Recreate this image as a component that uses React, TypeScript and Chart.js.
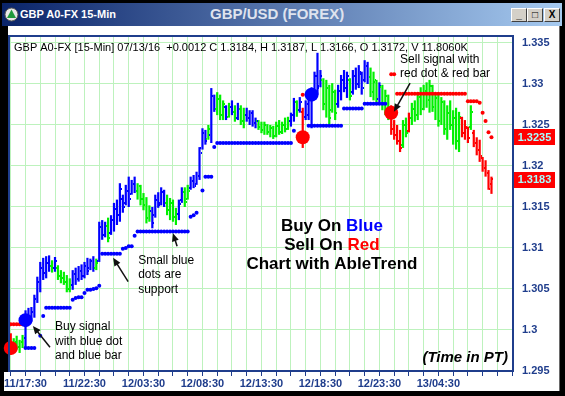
import React, { useEffect, useRef } from 'react';
import { Chart, registerables } from 'chart.js';

Chart.register(...registerables);

const FONT = 'Arial, "Liberation Sans", sans-serif';
const NAVY = '#1f3d8c';
const GRID = '#bdf2bd';
const TREND_COLORS: Record<string, string> = { B: '#0000ff', G: '#00f000', R: '#ff0000' };

// 15-minute bars: [trend colour, open, high, low, close]
const bars: [string, number, number, number, number][] = [
  ['R', 1.2990, 1.2996, 1.2970, 1.2976], // 0
  ['G', 1.2976, 1.2990, 1.2973, 1.2985],
  ['G', 1.2984, 1.2993, 1.2976, 1.2979],
  ['G', 1.2979, 1.2988, 1.2972, 1.2985],
  ['G', 1.2985, 1.2994, 1.2978, 1.2990],
  ['B', 1.2990, 1.3024, 1.2978, 1.3018], // 5
  ['B', 1.3018, 1.3027, 1.3006, 1.3012],
  ['B', 1.3012, 1.3028, 1.3010, 1.3022],
  ['B', 1.3022, 1.3043, 1.3015, 1.3038],
  ['B', 1.3038, 1.3065, 1.3033, 1.3058],
  ['B', 1.3058, 1.3083, 1.3046, 1.3075], // 10
  ['B', 1.3075, 1.3088, 1.3061, 1.3070],
  ['B', 1.3070, 1.3090, 1.3063, 1.3082],
  ['B', 1.3082, 1.3091, 1.3071, 1.3078],
  ['G', 1.3078, 1.3085, 1.3070, 1.3075],
  ['B', 1.3075, 1.3089, 1.3071, 1.3084], // 15
  ['G', 1.3076, 1.3079, 1.3061, 1.3066],
  ['G', 1.3066, 1.3073, 1.3057, 1.3063],
  ['G', 1.3063, 1.3071, 1.3055, 1.3058],
  ['G', 1.3058, 1.3067, 1.3046, 1.3050],
  ['G', 1.3050, 1.3063, 1.3046, 1.3055], // 20
  ['B', 1.3055, 1.3073, 1.3049, 1.3068],
  ['B', 1.3068, 1.3076, 1.3055, 1.3062],
  ['B', 1.3062, 1.3078, 1.3059, 1.3072],
  ['B', 1.3072, 1.3080, 1.3061, 1.3066],
  ['B', 1.3066, 1.3083, 1.3063, 1.3078], // 25
  ['B', 1.3078, 1.3088, 1.3067, 1.3072],
  ['B', 1.3075, 1.3087, 1.3073, 1.3084],
  ['B', 1.3084, 1.3090, 1.3071, 1.3076],
  ['G', 1.3076, 1.3087, 1.3073, 1.3082],
  ['B', 1.3084, 1.3132, 1.3083, 1.3125], // 30
  ['B', 1.3125, 1.3134, 1.3110, 1.3116],
  ['B', 1.3116, 1.3132, 1.3113, 1.3127],
  ['G', 1.3127, 1.3137, 1.3107, 1.3112],
  ['B', 1.3118, 1.3140, 1.3116, 1.3134],
  ['B', 1.3134, 1.3155, 1.3120, 1.3148], // 35
  ['B', 1.3148, 1.3159, 1.3128, 1.3140],
  ['B', 1.3140, 1.3179, 1.3132, 1.3172],
  ['B', 1.3160, 1.3165, 1.3143, 1.3150],
  ['B', 1.3155, 1.3177, 1.3152, 1.3170],
  ['B', 1.3170, 1.3187, 1.3150, 1.3160], // 40
  ['B', 1.3166, 1.3183, 1.3165, 1.3178],
  ['B', 1.3178, 1.3187, 1.3167, 1.3170],
  ['G', 1.3170, 1.3179, 1.3159, 1.3175],
  ['G', 1.3175, 1.3177, 1.3152, 1.3160],
  ['G', 1.3160, 1.3167, 1.3146, 1.3152], // 45
  ['G', 1.3152, 1.3162, 1.3130, 1.3136],
  ['G', 1.3136, 1.3152, 1.3132, 1.3145],
  ['B', 1.3145, 1.3150, 1.3124, 1.3130],
  ['B', 1.3140, 1.3165, 1.3137, 1.3158],
  ['B', 1.3158, 1.3168, 1.3149, 1.3152], // 50
  ['B', 1.3155, 1.3174, 1.3152, 1.3168],
  ['B', 1.3168, 1.3171, 1.3150, 1.3155],
  ['G', 1.3155, 1.3165, 1.3140, 1.3146],
  ['G', 1.3146, 1.3161, 1.3134, 1.3155],
  ['G', 1.3155, 1.3159, 1.3132, 1.3138], // 55
  ['G', 1.3138, 1.3149, 1.3128, 1.3142],
  ['B', 1.3142, 1.3159, 1.3134, 1.3154],
  ['B', 1.3158, 1.3174, 1.3155, 1.3168],
  ['G', 1.3168, 1.3174, 1.3150, 1.3156],
  ['G', 1.3160, 1.3177, 1.3159, 1.3170], // 60
  ['B', 1.3173, 1.3187, 1.3171, 1.3182],
  ['B', 1.3182, 1.3189, 1.3173, 1.3176],
  ['B', 1.3178, 1.3193, 1.3177, 1.3188],
  ['B', 1.3188, 1.3223, 1.3183, 1.3216],
  ['B', 1.3222, 1.3246, 1.3220, 1.3240], // 65
  ['B', 1.3240, 1.3244, 1.3226, 1.3230],
  ['G', 1.3233, 1.3250, 1.3232, 1.3245],
  ['B', 1.3238, 1.3295, 1.3228, 1.3285],
  ['B', 1.3285, 1.3287, 1.3266, 1.3270],
  ['G', 1.3270, 1.3290, 1.3262, 1.3282], // 70
  ['G', 1.3282, 1.3287, 1.3256, 1.3262],
  ['G', 1.3262, 1.3280, 1.3256, 1.3275],
  ['B', 1.3272, 1.3274, 1.3256, 1.3260],
  ['G', 1.3260, 1.3277, 1.3259, 1.3272],
  ['B', 1.3272, 1.3280, 1.3262, 1.3266], // 75
  ['G', 1.3266, 1.3274, 1.3254, 1.3258],
  ['B', 1.3258, 1.3277, 1.3256, 1.3270],
  ['G', 1.3270, 1.3274, 1.3250, 1.3255],
  ['G', 1.3255, 1.3271, 1.3246, 1.3262],
  ['B', 1.3262, 1.3271, 1.3254, 1.3258], // 80
  ['B', 1.3258, 1.3268, 1.3250, 1.3264],
  ['B', 1.3264, 1.3268, 1.3248, 1.3252],
  ['B', 1.3252, 1.3259, 1.3246, 1.3255],
  ['G', 1.3255, 1.3256, 1.3244, 1.3248],
  ['G', 1.3248, 1.3254, 1.3240, 1.3244], // 85
  ['G', 1.3244, 1.3254, 1.3238, 1.3250],
  ['G', 1.3250, 1.3251, 1.3238, 1.3241],
  ['G', 1.3241, 1.3250, 1.3235, 1.3246],
  ['G', 1.3246, 1.3249, 1.3233, 1.3237],
  ['G', 1.3237, 1.3254, 1.3235, 1.3249], // 90
  ['G', 1.3249, 1.3256, 1.3238, 1.3242],
  ['G', 1.3242, 1.3254, 1.3239, 1.3250],
  ['G', 1.3250, 1.3259, 1.3241, 1.3245],
  ['G', 1.3245, 1.3260, 1.3244, 1.3255],
  ['B', 1.3255, 1.3265, 1.3248, 1.3262], // 95
  ['B', 1.3262, 1.3283, 1.3254, 1.3278],
  ['G', 1.3278, 1.3280, 1.3260, 1.3268],
  ['B', 1.3268, 1.3284, 1.3265, 1.3278],
  ['R', 1.3266, 1.3271, 1.3222, 1.3230],
  ['B', 1.3260, 1.3280, 1.3256, 1.3275], // 100
  ['B', 1.3262, 1.3293, 1.3256, 1.3286],
  ['B', 1.3250, 1.3296, 1.3246, 1.3290],
  ['B', 1.3294, 1.3315, 1.3293, 1.3310],
  ['B', 1.3310, 1.3338, 1.3287, 1.3295],
  ['B', 1.3298, 1.3317, 1.3296, 1.3310], // 105
  ['G', 1.3305, 1.3307, 1.3268, 1.3275],
  ['G', 1.3275, 1.3305, 1.3259, 1.3295],
  ['G', 1.3295, 1.3299, 1.3250, 1.3258],
  ['G', 1.3268, 1.3301, 1.3265, 1.3290],
  ['G', 1.3290, 1.3293, 1.3256, 1.3265], // 110
  ['B', 1.3275, 1.3299, 1.3271, 1.3292],
  ['B', 1.3292, 1.3311, 1.3280, 1.3305],
  ['B', 1.3305, 1.3317, 1.3290, 1.3295],
  ['B', 1.3295, 1.3315, 1.3283, 1.3310],
  ['G', 1.3305, 1.3307, 1.3280, 1.3285], // 115
  ['B', 1.3290, 1.3317, 1.3287, 1.3310],
  ['B', 1.3310, 1.3320, 1.3293, 1.3300],
  ['B', 1.3300, 1.3323, 1.3295, 1.3315],
  ['B', 1.3312, 1.3315, 1.3287, 1.3295],
  ['B', 1.3305, 1.3329, 1.3302, 1.3322], // 120
  ['B', 1.3322, 1.3327, 1.3300, 1.3308],
  ['G', 1.3308, 1.3320, 1.3284, 1.3290],
  ['G', 1.3290, 1.3315, 1.3280, 1.3305],
  ['G', 1.3302, 1.3305, 1.3277, 1.3282],
  ['B', 1.3282, 1.3302, 1.3277, 1.3298], // 125
  ['G', 1.3296, 1.3299, 1.3268, 1.3275],
  ['G', 1.3275, 1.3293, 1.3262, 1.3285],
  ['G', 1.3285, 1.3287, 1.3256, 1.3262],
  ['R', 1.3262, 1.3274, 1.3238, 1.3245],
  ['R', 1.3245, 1.3256, 1.3232, 1.3238], // 130
  ['R', 1.3238, 1.3250, 1.3226, 1.3230],
  ['R', 1.3230, 1.3244, 1.3217, 1.3222],
  ['G', 1.3225, 1.3256, 1.3222, 1.3250],
  ['G', 1.3250, 1.3259, 1.3235, 1.3240],
  ['R', 1.3243, 1.3265, 1.3241, 1.3258], // 135
  ['G', 1.3258, 1.3277, 1.3250, 1.3270],
  ['G', 1.3270, 1.3280, 1.3254, 1.3262],
  ['G', 1.3262, 1.3290, 1.3256, 1.3284],
  ['G', 1.3284, 1.3296, 1.3262, 1.3270],
  ['G', 1.3270, 1.3299, 1.3268, 1.3292], // 140
  ['G', 1.3292, 1.3302, 1.3271, 1.3280],
  ['G', 1.3280, 1.3305, 1.3265, 1.3298],
  ['G', 1.3298, 1.3299, 1.3266, 1.3272],
  ['G', 1.3272, 1.3289, 1.3256, 1.3283],
  ['G', 1.3283, 1.3287, 1.3248, 1.3255], // 145
  ['G', 1.3255, 1.3284, 1.3250, 1.3278],
  ['G', 1.3278, 1.3280, 1.3238, 1.3245],
  ['G', 1.3245, 1.3274, 1.3232, 1.3265],
  ['G', 1.3265, 1.3280, 1.3244, 1.3250],
  ['G', 1.3250, 1.3268, 1.3226, 1.3258], // 150
  ['G', 1.3258, 1.3271, 1.3220, 1.3230],
  ['G', 1.3230, 1.3266, 1.3217, 1.3260],
  ['R', 1.3258, 1.3260, 1.3235, 1.3240],
  ['R', 1.3240, 1.3256, 1.3232, 1.3248],
  ['R', 1.3246, 1.3248, 1.3228, 1.3234], // 155
  ['G', 1.3248, 1.3274, 1.3244, 1.3266],
  ['R', 1.3240, 1.3244, 1.3223, 1.3228],
  ['R', 1.3228, 1.3235, 1.3213, 1.3220],
  ['R', 1.3220, 1.3232, 1.3205, 1.3212],
  ['R', 1.3210, 1.3211, 1.3193, 1.3198], // 160
  ['R', 1.3198, 1.3207, 1.3187, 1.3192],
  ['R', 1.3192, 1.3195, 1.3171, 1.3178],
  ['R', 1.3172, 1.3187, 1.3166, 1.3184],
];

// support (blue) and resistance (red) dot levels: [first bar, last bar, price]
const supportRuns: [number, number, number][] = [
  [5, 8, 1.2978], [10, 10, 1.2993], [11, 11, 1.3017], [12, 20, 1.3027], [21, 21, 1.3037],
  [22, 22, 1.3039], [23, 24, 1.3040], [25, 25, 1.3045], [26, 27, 1.3049], [28, 28, 1.3050],
  [29, 29, 1.3051], [30, 30, 1.3054], [31, 37, 1.3093], [38, 38, 1.3099], [39, 39, 1.3100],
  [40, 41, 1.3102], [42, 42, 1.3115], [43, 60, 1.3120], [61, 61, 1.3138], [62, 62, 1.3140],
  [63, 63, 1.3143], [65, 65, 1.3170], [66, 68, 1.3187], [69, 69, 1.3223], [70, 95, 1.3228],
  [96, 96, 1.3243], [101, 112, 1.3249], [113, 119, 1.3270], [120, 127, 1.3276],
];
const resistanceRuns: [number, number, number][] = [
  [0, 4, 1.3007], [99, 99, 1.3287], [129, 130, 1.3312], [131, 154, 1.3288], [155, 158, 1.3279],
  [159, 159, 1.3277], [160, 160, 1.3265], [161, 161, 1.3255], [162, 162, 1.3241], [163, 163, 1.3235],
];

// signal dots: [bar, price]
const buySignals: [number, number][] = [[5, 1.3012], [102, 1.3287]];
const sellSignals: [number, number][] = [[0, 1.2978], [99, 1.3235], [129, 1.3265]];

// last-value price tags on the right axis
const priceTags: number[] = [1.3235, 1.3183];

// axes
const xLabelBars = [5, 25, 45, 65, 85, 105, 125, 145];
const xLabels = ['11/17:30', '11/22:30', '12/03:30', '12/08:30', '12/13:30', '12/18:30', '12/23:30', '13/04:30'];
const gridBars = Array.from({ length: 35 }, (_, k) => k * 5);
const yTickValues = [1.295, 1.3, 1.305, 1.31, 1.315, 1.32, 1.325, 1.33, 1.335];
const yTickLabels = ['1.295', '1.3', '1.305', '1.31', '1.315', '1.32', '1.325', '1.33', '1.335'];

const headerText = 'GBP A0-FX [15-Min] 07/13/16  +0.0012 C 1.3184, H 1.3187, L 1.3166, O 1.3172, V 11.8060K';

// callout texts anchored at [bar, price] (left edge, first line centre)
const callouts = [
  { lines: ['Buy signal', 'with blue dot', 'and blue bar'], bar: 15, price: 1.3004 },
  { lines: ['Small blue', 'dots are', 'support'], bar: 43.2, price: 1.3085 },
  { lines: ['Sell signal with', 'red dot & red bar'], bar: 132, price: 1.3330 },
];
// arrows: [tail bar, tail price, head bar, head price]
const arrows: [number, number, number, number][] = [
  [13.3, 1.2979, 7.5, 1.3005],
  [39.8, 1.3059, 34.7, 1.3088],
  [56.4, 1.3102, 55.0, 1.3118],
  [135.4, 1.3301, 129.9, 1.3266],
];
const slogan: [string, string][][] = [
  [['Buy On ', '#000000'], ['Blue', '#0000ff']],
  [['Sell On ', '#000000'], ['Red', '#ff0000']],
  [['Chart with AbleTrend', '#000000']],
];
const sloganAnchor = { bar: 108.9, price: 1.3127 };
const timeNote = { text: '(Time in PT)', bar: 168.6, price: 1.2966 };

function expandRuns(runs: [number, number, number][]) {
  const pts: { x: number; y: number }[] = [];
  runs.forEach(([a, b, p]) => {
    for (let i = a; i <= b; i++) pts.push({ x: i, y: p });
  });
  return pts;
}

const ohlcTicks = {
  id: 'ohlcTicks',
  afterDatasetDraw(chart: any, args: any) {
    if (args.index !== 0) return;
    const { ctx, chartArea: a } = chart;
    const x = chart.scales.x;
    const y = chart.scales.y;
    ctx.save();
    ctx.beginPath();
    ctx.rect(a.left, a.top, a.right - a.left, a.bottom - a.top);
    ctx.clip();
    bars.forEach(([t, o, , , c], i) => {
      const px = x.getPixelForValue(i);
      ctx.fillStyle = TREND_COLORS[t];
      ctx.fillRect(Math.round(px - 2), Math.round(y.getPixelForValue(o)) - 1, 1, 2);
      ctx.fillRect(Math.round(px + 1), Math.round(y.getPixelForValue(c)) - 1, 1, 2);
    });
    ctx.restore();
  },
};

function drawArrow(ctx: CanvasRenderingContext2D, x1: number, y1: number, x2: number, y2: number) {
  const ang = Math.atan2(y2 - y1, x2 - x1);
  const L = 8, W = 3.5;
  ctx.beginPath();
  ctx.moveTo(x1, y1);
  ctx.lineTo(x2 - 4 * Math.cos(ang), y2 - 4 * Math.sin(ang));
  ctx.stroke();
  ctx.beginPath();
  ctx.moveTo(x2, y2);
  ctx.lineTo(x2 - L * Math.cos(ang) + W * Math.sin(ang), y2 - L * Math.sin(ang) - W * Math.cos(ang));
  ctx.lineTo(x2 - L * Math.cos(ang) - W * Math.sin(ang), y2 - L * Math.sin(ang) + W * Math.cos(ang));
  ctx.closePath();
  ctx.fill();
}

const overlay = {
  id: 'overlay',
  afterDraw(chart: any) {
    const { ctx, chartArea: a } = chart;
    const x = chart.scales.x;
    const y = chart.scales.y;
    ctx.save();

    // header line
    ctx.font = `11px ${FONT}`;
    ctx.fillStyle = '#000';
    ctx.textBaseline = 'middle';
    ctx.textAlign = 'left';
    ctx.fillText(headerText, a.left + 5, a.top + 12);

    // callouts
    ctx.font = `12px ${FONT}`;
    callouts.forEach((c) => {
      const px = x.getPixelForValue(c.bar);
      const py = y.getPixelForValue(c.price);
      c.lines.forEach((ln, k) => ctx.fillText(ln, px, py + k * 14.5));
    });
    ctx.strokeStyle = '#111';
    ctx.fillStyle = '#111';
    ctx.lineWidth = 1.5;
    arrows.forEach(([b1, p1, b2, p2]) =>
      drawArrow(ctx, x.getPixelForValue(b1), y.getPixelForValue(p1), x.getPixelForValue(b2), y.getPixelForValue(p2))
    );

    // slogan
    ctx.font = `bold 17px ${FONT}`;
    const cx = x.getPixelForValue(sloganAnchor.bar);
    const cy = y.getPixelForValue(sloganAnchor.price);
    slogan.forEach((parts, k) => {
      const total = parts.reduce((s, [t]) => s + ctx.measureText(t).width, 0);
      let sx = cx - total / 2;
      parts.forEach(([t, col]) => {
        ctx.fillStyle = col;
        ctx.fillText(t, sx, cy + k * 19);
        sx += ctx.measureText(t).width;
      });
    });

    // time note
    ctx.font = `italic bold 15px ${FONT}`;
    ctx.fillStyle = '#000';
    ctx.textAlign = 'right';
    ctx.fillText(timeNote.text, x.getPixelForValue(timeNote.bar), y.getPixelForValue(timeNote.price));

    // plot frame
    ctx.strokeStyle = NAVY;
    ctx.lineWidth = 2;
    ctx.strokeRect(a.left, a.top, a.right - a.left, a.bottom - a.top);

    // price tags
    ctx.font = `bold 11px ${FONT}`;
    ctx.textAlign = 'center';
    priceTags.forEach((v) => {
      const py = y.getPixelForValue(v);
      ctx.fillStyle = '#ff0000';
      ctx.fillRect(a.right + 1, Math.round(py) - 8, 41, 16);
      ctx.fillStyle = '#a8ffff';
      ctx.fillText(v.toFixed(4), a.right + 21.5, py + 0.5);
    });
    ctx.restore();
  },
};

export default function App() {
  const ref = useRef<HTMLCanvasElement>(null);

  useEffect(() => {
    if (!ref.current) return;
    const chart = new Chart(ref.current, {
      type: 'bar',
      data: {
        datasets: [
          {
            type: 'bar',
            label: 'OHLC',
            data: bars.map((b, i) => ({ x: i, y: [b[3], b[2]] })) as any,
            backgroundColor: bars.map((b) => TREND_COLORS[b[0]]),
            barThickness: 2.2,
            inflateAmount: 0,
            borderWidth: 0,
            order: 3,
          } as any,
          {
            type: 'line',
            label: 'Support',
            data: expandRuns(supportRuns),
            showLine: false,
            pointRadius: 2,
            pointBackgroundColor: '#0000ff',
            pointBorderWidth: 0,
            order: 2,
          } as any,
          {
            type: 'line',
            label: 'Resistance',
            data: expandRuns(resistanceRuns),
            showLine: false,
            pointRadius: 2,
            pointBackgroundColor: '#ff0000',
            pointBorderWidth: 0,
            order: 2,
          } as any,
          {
            type: 'line',
            label: 'Buy',
            data: buySignals.map(([i, p]) => ({ x: i, y: p })),
            showLine: false,
            pointRadius: 7,
            pointBackgroundColor: '#0000ff',
            pointBorderWidth: 0,
            order: 1,
            clip: false,
          } as any,
          {
            type: 'line',
            label: 'Sell',
            data: sellSignals.map(([i, p]) => ({ x: i, y: p })),
            showLine: false,
            pointRadius: 7,
            pointBackgroundColor: '#ff0000',
            pointBorderWidth: 0,
            order: 1,
            clip: false,
          } as any,
        ],
      },
      options: {
        animation: false,
        responsive: false,
        devicePixelRatio: 1,
        events: [],
        layout: { padding: { left: 9, top: 36, right: 0, bottom: 5 } },
        plugins: { legend: { display: false }, tooltip: { enabled: false }, title: { display: false } },
        scales: {
          x: {
            type: 'linear',
            min: -0.6,
            max: 170.3,
            offset: false,
            afterBuildTicks: (s: any) => {
              s.ticks = gridBars.map((v) => ({ value: v }));
            },
            afterFit: (s: any) => {
              s.height = 20;
            },
            grid: { color: GRID, offset: false, drawTicks: true, tickLength: 5, tickColor: NAVY, lineWidth: 1 },
            border: { display: false },
            ticks: {
              autoSkip: false,
              maxRotation: 0,
              minRotation: 0,
              padding: 1,
              color: NAVY,
              font: { family: FONT, size: 11, weight: 'bold' },
              callback: (v: any) => {
                const k = xLabelBars.indexOf(Number(v));
                return k >= 0 ? xLabels[k] : '';
              },
            },
          } as any,
          y: {
            type: 'linear',
            position: 'right',
            min: 1.295,
            max: 1.33585,
            afterBuildTicks: (s: any) => {
              s.ticks = yTickValues.map((v) => ({ value: v }));
            },
            afterFit: (s: any) => {
              s.width = 52;
            },
            grid: { color: GRID, drawTicks: false, lineWidth: 1 },
            border: { display: false },
            ticks: {
              autoSkip: false,
              padding: 9,
              color: NAVY,
              font: { family: FONT, size: 11, weight: 'bold' },
              callback: (_v: any, i: number) => yTickLabels[i],
            },
          } as any,
        },
      },
      plugins: [ohlcTicks, overlay],
    } as any);
    return () => chart.destroy();
  }, []);

  const btn: React.CSSProperties = {
    position: 'absolute',
    top: 5,
    width: 14,
    height: 12,
    background: '#d4d0c8',
    borderTop: '1px solid #ffffff',
    borderLeft: '1px solid #ffffff',
    borderRight: '1px solid #404040',
    borderBottom: '1px solid #404040',
    color: '#000',
    font: `bold 10px ${FONT}`,
    lineHeight: '12px',
    textAlign: 'center',
  };

  return (
    <div
      style={{
        position: 'fixed',
        left: 0,
        top: 0,
        width: 565,
        height: 396,
        background: '#000',
        overflow: 'hidden',
        fontFamily: FONT,
      }}
    >
      <div
        style={{
          position: 'absolute',
          left: 2,
          top: 3,
          width: 560,
          height: 23,
          background: 'linear-gradient(to right, #0a246a 0%, #a6caf0 100%)',
        }}
      >
        <svg width={15} height={15} style={{ position: 'absolute', left: 2, top: 4 }}>
          <circle cx={7.5} cy={7.5} r={6.5} fill="#e8e8e8" stroke="#5a5a5a" strokeWidth={1} />
          <polygon points="7.5,2.5 12,11 3,11" fill="#1f9a3c" />
        </svg>
        <div
          style={{
            position: 'absolute',
            left: 18,
            top: 5,
            color: '#fff',
            font: `bold 11px ${FONT}`,
            lineHeight: '13px',
            whiteSpace: 'nowrap',
          }}
        >
          GBP A0-FX 15-Min
        </div>
        <div
          style={{
            position: 'absolute',
            left: 208,
            top: 2,
            color: '#dfe3ee',
            font: `bold 15px ${FONT}`,
            lineHeight: '18px',
            whiteSpace: 'nowrap',
          }}
        >
          GBP/USD (FOREX)
        </div>
        <div style={{ ...btn, left: 509 }}>_</div>
        <div style={{ ...btn, left: 525 }}>□</div>
        <div style={{ ...btn, left: 542 }}>X</div>
      </div>
      <div
        style={{
          position: 'absolute',
          left: 4,
          top: 26,
          width: 555,
          height: 365,
          background: '#ffffff',
          borderRight: '1px solid #6a6a6a',
        }}
      />
      <div style={{ position: 'absolute', left: 4, top: 26, width: 4, height: 346, background: '#000' }} />
      <canvas ref={ref} width={565} height={396} style={{ position: 'absolute', left: 0, top: 0, display: 'block' }} />
    </div>
  );
}
